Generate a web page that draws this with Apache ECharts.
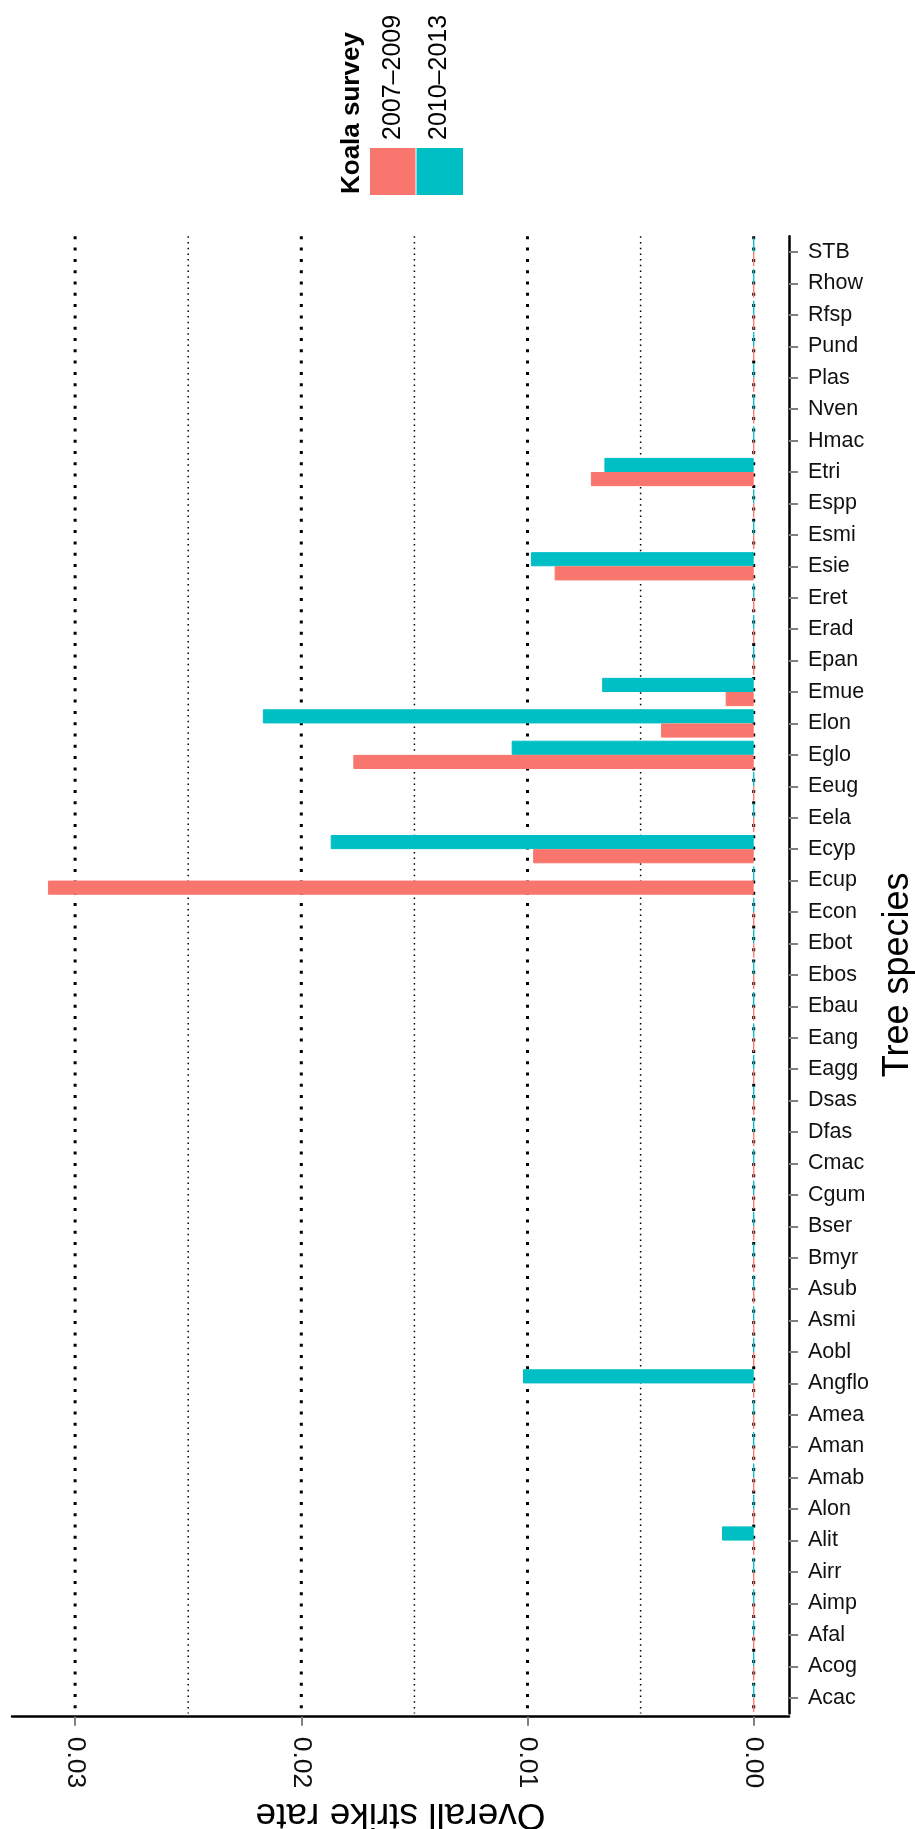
<!DOCTYPE html>
<html>
<head>
<meta charset="utf-8">
<script src="https://cdn.jsdelivr.net/npm/echarts@6/dist/echarts.min.js"></script>
<style>
  html, body { margin: 0; padding: 0; background: #ffffff; overflow: hidden; }
  #chart { width: 915px; height: 1829px; }
</style>
</head>
<body>
<div id="chart"></div>
<script>
// Tree species, listed from the bottom of the axis to the top
const species = ['Acac', 'Acog', 'Afal', 'Aimp', 'Airr', 'Alit', 'Alon', 'Amab', 'Aman', 'Amea',
  'Angflo', 'Aobl', 'Asmi', 'Asub', 'Bmyr', 'Bser', 'Cgum', 'Cmac', 'Dfas', 'Dsas',
  'Eagg', 'Eang', 'Ebau', 'Ebos', 'Ebot', 'Econ', 'Ecup', 'Ecyp', 'Eela', 'Eeug',
  'Eglo', 'Elon', 'Emue', 'Epan', 'Erad', 'Eret', 'Esie', 'Esmi', 'Espp', 'Etri',
  'Hmac', 'Nven', 'Plas', 'Pund', 'Rfsp', 'Rhow', 'STB'];

// Overall strike rate per species, one array per survey period
const rate2007to2009 = [0, 0, 0, 0, 0, 0, 0, 0, 0, 0,
  0, 0, 0, 0, 0, 0, 0, 0, 0, 0,
  0, 0, 0, 0, 0, 0, 0.0312, 0.00975, 0, 0,
  0.0177, 0.0041, 0.00124, 0, 0, 0, 0.0088, 0, 0, 0.0072,
  0, 0, 0, 0, 0, 0, 0];
const rate2010to2013 = [0, 0, 0, 0, 0, 0.0014, 0, 0, 0, 0,
  0.0102, 0, 0, 0, 0, 0, 0, 0, 0, 0,
  0, 0, 0, 0, 0, 0, 0, 0.0187, 0, 0,
  0.0107, 0.0217, 0.0067, 0, 0, 0, 0.00985, 0, 0, 0.0066,
  0, 0, 0, 0, 0, 0, 0];

const surveyNames = ['2007\u20132009', '2010\u20132013'];
const surveyColors = ['#F8766D', '#00BFC4'];

// Rate axis ticks and grid lines
const rateTicks = [0, 0.01, 0.02, 0.03];
const rateMinorTicks = [0.005, 0.015, 0.025];

const FONT = 'Liberation Sans, Arial, Helvetica, sans-serif';

const chart = echarts.init(document.getElementById('chart'), null, { renderer: 'canvas' });

function barSeries(i, values) {
  return {
    name: surveyNames[i],
    type: 'bar',
    data: values,
    barWidth: '45%',
    barGap: '0%',
    z: 3,
    silent: true,
    itemStyle: { color: surveyColors[i], borderColor: surveyColors[i], borderWidth: 1 }
  };
}

// Grid line records: [rate, 0 = major / 1 = minor]
const gridLineData = rateTicks.map(v => [v, 0]).concat(rateMinorTicks.map(v => [v, 1]));

const gridLineSeries = {
  type: 'custom',
  data: gridLineData,
  encode: { x: 0 },
  z: 1,
  silent: true,
  clip: false,
  renderItem: function (params, api) {
    const x = api.coord([api.value(0), 0])[0];
    const cs = params.coordSys;
    const major = api.value(1) === 0;
    return {
      type: 'line',
      silent: true,
      shape: { x1: x, y1: cs.y, x2: x, y2: cs.y + cs.height },
      style: major
        ? { stroke: '#000', lineWidth: 3, lineDash: [3, 8.3], fill: null }
        : { stroke: '#000', lineWidth: 1.5, lineDash: [1.5, 4.2], fill: null }
    };
  }
};

const option = {
  backgroundColor: '#ffffff',
  animation: false,
  textStyle: { fontFamily: FONT },
  grid: {
    left: 12, right: 126, top: 236.3, height: 1477.1,
    containLabel: false,
    outerBoundsMode: 'none'
  },
  xAxis: {
    type: 'value',
    inverse: true,
    min: -0.00156,
    max: 0.03279,
    position: 'bottom',
    offset: 3.3,
    axisLine: { show: true, onZero: false, lineStyle: { color: '#000', width: 2.5 } },
    axisTick: { show: true, customValues: rateTicks, length: 9, lineStyle: { color: '#808080', width: 2 } },
    axisLabel: {
      customValues: rateTicks,
      rotate: -90,
      margin: 20,
      fontSize: 26.5,
      color: '#111',
      fontFamily: FONT,
      formatter: v => v.toFixed(2)
    },
    splitLine: { show: false },
    name: 'Overall strike rate',
    nameLocation: 'middle',
    nameRotate: 180,
    nameGap: 70,
    nameTextStyle: { fontSize: 37, color: '#000', fontFamily: FONT }
  },
  yAxis: {
    type: 'category',
    data: species,
    position: 'right',
    axisLine: { show: true, onZero: false, lineStyle: { color: '#000', width: 2.5 } },
    axisTick: { show: true, alignWithLabel: true, length: 9, lineStyle: { color: '#808080', width: 2 } },
    axisLabel: { margin: 19, fontSize: 21.5, color: '#111', fontFamily: FONT },
    splitLine: { show: false },
    name: 'Tree species',
    nameLocation: 'middle',
    nameRotate: 90,
    nameGap: 83,
    nameTextStyle: { fontSize: 36, color: '#000', fontFamily: FONT }
  },
  series: [
    gridLineSeries,
    barSeries(1, rate2010to2013),
    barSeries(0, rate2007to2009)
  ],
  graphic: [
    {
      type: 'text', x: 351.5, y: 194, rotation: Math.PI / 2,
      style: { text: 'Koala survey', font: 'bold 26px ' + FONT, fill: '#000', align: 'left', verticalAlign: 'middle' }
    },
    {
      type: 'rect', shape: { x: 370, y: 148, width: 45.5, height: 47 },
      style: { fill: surveyColors[0] }
    },
    {
      type: 'rect', shape: { x: 416.5, y: 148, width: 46.5, height: 47 },
      style: { fill: surveyColors[1] }
    },
    {
      type: 'text', x: 393, y: 140, rotation: Math.PI / 2,
      style: { text: surveyNames[0], font: '25px ' + FONT, fill: '#000', align: 'left', verticalAlign: 'middle' }
    },
    {
      type: 'text', x: 439.5, y: 140, rotation: Math.PI / 2,
      style: { text: surveyNames[1], font: '25px ' + FONT, fill: '#000', align: 'left', verticalAlign: 'middle' }
    }
  ]
};

chart.setOption(option);
</script>
</body>
</html>
